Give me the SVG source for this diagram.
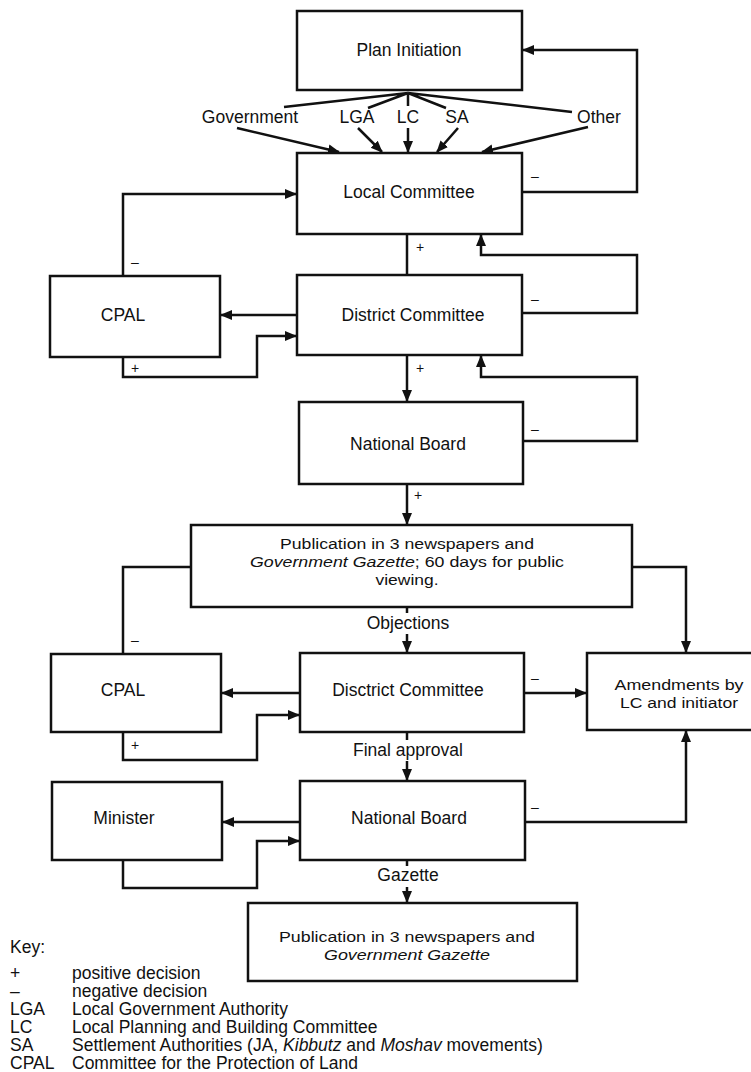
<svg xmlns="http://www.w3.org/2000/svg" width="751" height="1072" viewBox="0 0 751 1072">
<style>
.box{fill:#fff;stroke:#111;stroke-width:2.5}
.ln{fill:none;stroke:#111;stroke-width:2.5}
.arr{marker-end:url(#ah)}
text{font-family:"Liberation Sans",Arial,sans-serif;font-size:17.5px;fill:#111}
.c{text-anchor:middle}
.s{font-size:14px}
.m{font-size:15.5px}
.i{font-style:italic}
</style>
<defs>
<marker id="ah" markerUnits="userSpaceOnUse" markerWidth="12" markerHeight="12" viewBox="0 0 12 12" refX="11" refY="6" orient="auto">
<path d="M0,1 L12,6 L0,11 z" fill="#111"/>
</marker>
</defs>
<rect width="751" height="1072" fill="#fff"/>
<g id="connectors">
<path class="ln arr" d="M522,192 H637 V50 H523"/>
<path class="ln" d="M408,93 L284,107 M408,93 L368,108 M408,93 V106 M408,93 L446,108 M408,93 L572,112"/>
<path class="ln arr" d="M237,128 L339,152"/>
<path class="ln arr" d="M358,128 L382,152"/>
<path class="ln arr" d="M408,128 V152"/>
<path class="ln arr" d="M458,128 L437,152"/>
<path class="ln arr" d="M588,127 L482,152"/>
<path class="ln arr" d="M123,276 V194 H296"/>
<path class="ln" d="M407,234 V275"/>
<path class="ln arr" d="M522,313 H637 V255 H481 V235"/>
<path class="ln arr" d="M297,315 H221"/>
<path class="ln arr" d="M123,357 V377 H257 V336 H296"/>
<path class="ln arr" d="M407,355 V401"/>
<path class="ln arr" d="M523,441 H637 V377 H481 V356"/>
<path class="ln arr" d="M407,484 V524"/>
<path class="ln" d="M191,567 H123 V654"/>
<path class="ln arr" d="M632,567 H686 V652"/>
<path class="ln" d="M407,607 V613"/>
<path class="ln arr" d="M407,634 V652"/>
<path class="ln arr" d="M300,693 H222"/>
<path class="ln arr" d="M524,693 H586"/>
<path class="ln arr" d="M123,732 V760 H257 V715 H299"/>
<path class="ln" d="M407,732 V740"/>
<path class="ln arr" d="M407,761 V780"/>
<path class="ln arr" d="M300,822 H223"/>
<path class="ln arr" d="M123,860 V888 H257 V841 H299"/>
<path class="ln arr" d="M525,822 H686 V731"/>
<path class="ln" d="M407,860 V866"/>
<path class="ln arr" d="M407,887 V902"/>
<text x="250" y="123" class="c">Government</text>
<text x="357" y="123" class="c">LGA</text>
<text x="408" y="123" class="c">LC</text>
<text x="457" y="123" class="c">SA</text>
<text x="599" y="123" class="c">Other</text>
<text x="535" y="181" class="c s">–</text>
<text x="135" y="267" class="c s">–</text>
<text x="420" y="252" class="c s">+</text>
<text x="535" y="304" class="c s">–</text>
<text x="135" y="373" class="c s">+</text>
<text x="420" y="373" class="c s">+</text>
<text x="535" y="434" class="c s">–</text>
<text x="418" y="500" class="c s">+</text>
<text x="135" y="645" class="c s">–</text>
<text x="408" y="629" class="c">Objections</text>
<text x="535" y="683" class="c s">–</text>
<text x="135" y="750" class="c s">+</text>
<text x="408" y="756" class="c">Final approval</text>
<text x="535" y="812" class="c s">–</text>
<text x="408" y="881" class="c">Gazette</text>
</g>
<g id="plan-initiation"><rect class="box" x="297" y="11" width="225" height="79"/><text x="409" y="56" class="c">Plan Initiation</text></g>
<g id="local-committee"><rect class="box" x="297" y="153" width="225" height="81"/><text x="409" y="198" class="c">Local Committee</text></g>
<g id="cpal-1"><rect class="box" x="50" y="276" width="170" height="81"/><text x="123" y="321" class="c">CPAL</text></g>
<g id="district-committee-1"><rect class="box" x="297" y="275" width="225" height="80"/><text x="413" y="321" class="c">District Committee</text></g>
<g id="national-board-1"><rect class="box" x="299" y="402" width="224" height="82"/><text x="408" y="450" class="c">National Board</text></g>
<g id="publication-1"><rect class="box" x="191" y="525" width="441" height="82"/>
<text x="407" y="549" class="c m" textLength="254" lengthAdjust="spacingAndGlyphs">Publication in 3 newspapers and</text>
<text x="407" y="567" class="c m" textLength="314" lengthAdjust="spacingAndGlyphs"><tspan class="i">Government Gazette</tspan>; 60 days for public</text>
<text x="407" y="585" class="c m" textLength="63" lengthAdjust="spacingAndGlyphs">viewing.</text></g>
<g id="cpal-2"><rect class="box" x="51" y="654" width="170" height="78"/><text x="123" y="696" class="c">CPAL</text></g>
<g id="district-committee-2"><rect class="box" x="300" y="653" width="224" height="79"/><text x="408" y="696" class="c">Disctrict Committee</text></g>
<g id="amendments"><rect class="box" x="587" y="653" width="185" height="77"/>
<text x="679" y="690" class="c m" textLength="129" lengthAdjust="spacingAndGlyphs">Amendments by</text>
<text x="679" y="708" class="c m" textLength="118" lengthAdjust="spacingAndGlyphs">LC and initiator</text></g>
<g id="national-board-2"><rect class="box" x="300" y="781" width="225" height="79"/><text x="409" y="824" class="c">National Board</text></g>
<g id="minister"><rect class="box" x="52" y="782" width="170" height="78"/><text x="124" y="824" class="c">Minister</text></g>
<g id="publication-2"><rect class="box" x="248" y="903" width="329" height="78"/>
<text x="407" y="942" class="c m" textLength="256" lengthAdjust="spacingAndGlyphs">Publication in 3 newspapers and</text>
<text x="407" y="960" class="c m i" textLength="166" lengthAdjust="spacingAndGlyphs">Government Gazette</text></g>
<g id="key">
<text x="10" y="953">Key:</text>
<text x="10" y="979">+</text><text x="72" y="979">positive decision</text>
<text x="10" y="997">–</text><text x="72" y="997">negative decision</text>
<text x="10" y="1015">LGA</text><text x="72" y="1015">Local Government Authority</text>
<text x="10" y="1033">LC</text><text x="72" y="1033">Local Planning and Building Committee</text>
<text x="10" y="1051">SA</text><text x="72" y="1051">Settlement Authorities (JA, <tspan class="i">Kibbutz</tspan> and <tspan class="i">Moshav</tspan> movements)</text>
<text x="10" y="1069">CPAL</text><text x="72" y="1069">Committee for the Protection of Land</text>
</g>
</svg>
